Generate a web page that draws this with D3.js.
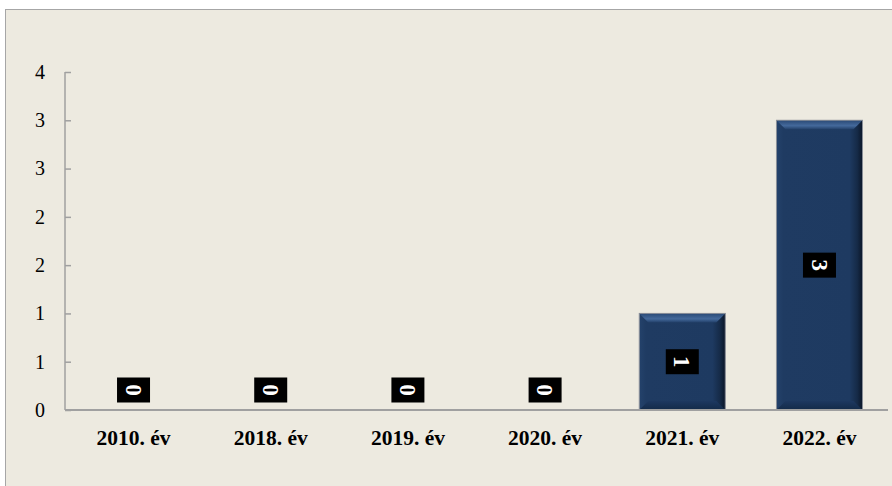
<!DOCTYPE html>
<html><head><meta charset="utf-8">
<script src="https://cdn.jsdelivr.net/npm/d3@7"></script>
<style>html,body{margin:0;padding:0;background:#fff;}svg{display:block;}</style>
</head><body>
<svg id="c" width="892" height="486"></svg>
<script>
const categories = ["2010. év","2018. év","2019. év","2020. év","2021. év","2022. év"];
const values = [0,0,0,0,1,3];
const yTicks = [0,0.5,1,1.5,2,2.5,3,3.5];

(function(){
const svg = d3.select("#c");
const W = 892, H = 486;
const defs = svg.append("defs");

// frame
svg.append("rect").attr("x",5.5).attr("y",9.5).attr("width",W).attr("height",H)
  .attr("fill","#EDEAE0").attr("stroke","#A6A6A6").attr("stroke-width",1);

const pLeft = 65, pRight = 888, pBottom = 410, pTop = 72;
const x = d3.scaleBand().domain(categories).range([pLeft,pRight]).paddingInner(0.373).paddingOuter(0.186);
const y = d3.scaleLinear().domain([0,3.5]).range([pBottom,pTop]);

// gradients for bars
const gMain = defs.append("linearGradient").attr("id","gmain").attr("x1",0).attr("x2",1).attr("y1",0).attr("y2",0);
gMain.append("stop").attr("offset","0%").attr("stop-color","#24426b");
gMain.append("stop").attr("offset","8%").attr("stop-color","#1f3b62");
gMain.append("stop").attr("offset","85%").attr("stop-color","#1e3a61");
gMain.append("stop").attr("offset","94%").attr("stop-color","#152a47");
gMain.append("stop").attr("offset","100%").attr("stop-color","#0b1628");
const gTop = defs.append("linearGradient").attr("id","gtop").attr("x1",0).attr("x2",0).attr("y1",0).attr("y2",1);
gTop.append("stop").attr("offset","0%").attr("stop-color","#2a4a76");
gTop.append("stop").attr("offset","60%").attr("stop-color","#44699b");
gTop.append("stop").attr("offset","100%").attr("stop-color","#23416a");
const gBot = defs.append("linearGradient").attr("id","gbot").attr("x1",0).attr("x2",0).attr("y1",0).attr("y2",1);
gBot.append("stop").attr("offset","0%").attr("stop-color","#1d3860");
gBot.append("stop").attr("offset","100%").attr("stop-color","#132a48");

// axes
const yAxis = d3.axisLeft(y).tickValues(yTicks).tickSize(0).tickPadding(0)
  .tickFormat(d => String(Math.floor(d + 0.5)));
const ya = svg.append("g").attr("transform",`translate(${pLeft},0)`).call(yAxis);
ya.select(".domain").remove();
ya.selectAll("text").attr("x",-25).attr("dy","0.32em")
  .attr("font-family","'Liberation Serif','Times New Roman',serif").attr("font-size",20).attr("fill","#000")
  .attr("text-anchor","middle");
ya.selectAll(".tick").append("line").attr("x1",0).attr("x2",6).attr("stroke","#A0A0A0").attr("stroke-width",1.5);
svg.append("line").attr("x1",pLeft).attr("x2",pLeft).attr("y1",pTop).attr("y2",pBottom)
  .attr("stroke","#A0A0A0").attr("stroke-width",1.5);

// bars
const bars = svg.append("g").selectAll("g").data(values.map((v,i)=>({v,c:categories[i]}))).join("g");
bars.filter(d=>d.v>0).each(function(d){
  const g = d3.select(this);
  const x0 = x(d.c), bw = x.bandwidth(), y0 = y(d.v), h = y(0)-y(d.v);
  const b = 9;
  g.append("rect").attr("x",x0).attr("y",y0).attr("width",bw).attr("height",h).attr("fill","url(#gmain)");
  g.append("path").attr("d",`M${x0},${y0}L${x0+bw},${y0}L${x0+bw-b},${y0+b}L${x0+b},${y0+b}Z`).attr("fill","url(#gtop)");
  g.append("path").attr("d",`M${x0},${y0+h}L${x0+bw},${y0+h}L${x0+bw-b},${y0+h-b}L${x0+b},${y0+h-b}Z`).attr("fill","url(#gbot)");
  g.append("rect").attr("x",x0).attr("y",y0).attr("width",bw).attr("height",h).attr("fill","none")
    .attr("stroke","#8a8f98").attr("stroke-width",1);
});

// x axis
svg.append("line").attr("x1",pLeft).attr("x2",pRight).attr("y1",pBottom).attr("y2",pBottom)
  .attr("stroke","#A0A0A0").attr("stroke-width",2);
const xAxis = d3.axisBottom(x).tickSize(0).tickPadding(0);
const xa = svg.append("g").attr("transform",`translate(0,${pBottom})`).call(xAxis);
xa.select(".domain").remove();
xa.selectAll("text").attr("y",35).attr("dy",0)
  .attr("font-family","'Liberation Serif','Times New Roman',serif").attr("font-size",21.5)
  .attr("font-weight","bold").attr("fill","#000");

// data labels
const lab = svg.append("g").selectAll("g").data(values.map((v,i)=>({v,c:categories[i]}))).join("g")
  .attr("transform",d=>`translate(${x(d.c)+x.bandwidth()/2},${Math.min(y(d.v/2), y(0)-20)})`);
lab.append("rect").attr("x",-16.5).attr("y",-12.5).attr("width",33).attr("height",25).attr("fill","#000");
lab.append("text").attr("transform","rotate(90)").attr("text-anchor","middle").attr("dy","0.34em")
  .attr("font-family","'Liberation Serif','Times New Roman',serif").attr("font-size",23).attr("font-weight","bold")
  .attr("fill","#fff").text(d=>d.v);
})();
</script>
</body></html>
